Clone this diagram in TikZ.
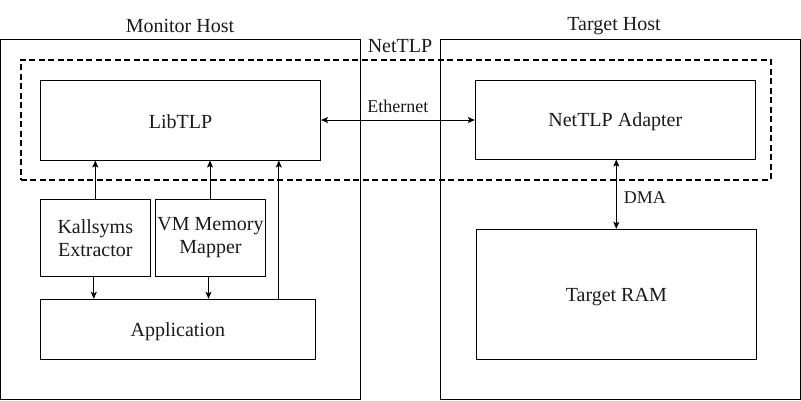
\documentclass[tikz,border=0pt]{standalone}
\usepackage{fontspec}
\setmainfont{Liberation Serif}
\usetikzlibrary{positioning, arrows.meta}
\definecolor{cLine}{HTML}{000000}
\definecolor{cText}{HTML}{1A1A1A}

\begin{document}
\begin{tikzpicture}[x=1pt, y=-1pt,
    hostbox/.style={draw=cLine, line width=1pt, inner sep=0pt},
    blockbox/.style={draw=cLine, line width=1pt, inner sep=0pt, align=center,
      text=cText, font=\fontsize{20}{23}\selectfont,
      execute at begin node={\rule{0pt}{18pt}}},
    grouplbl/.style={text=cText, inner sep=0pt, font=\fontsize{20}{23}\selectfont},
    linklbl/.style={text=cText, inner sep=2pt, font=\fontsize{18}{20}\selectfont},
    link/.style={-{Stealth[length=7pt, width=6pt, inset=1.5pt]}, line width=1pt, draw=cLine},
    duplex/.style={{Stealth[length=7pt, width=6pt, inset=1.5pt]}-{Stealth[length=7pt, width=6pt, inset=1.5pt]},
      line width=1pt, draw=cLine},
  ]
  \useasboundingbox (0,0) rectangle (801,400);

  % hosts
  \node[hostbox, minimum width=360pt, minimum height=360pt] (mon) at (180.5, 219.5) {};
  \node[hostbox, minimum width=360pt, minimum height=360pt] (tgt) at (620, 219) {};
  \node[grouplbl] (monlbl) at (180, 26) {Monitor Host};
  \node[grouplbl] (tgtlbl) at (614, 26) {Target Host};

  % NetTLP region
  \node[draw=cLine, line width=2pt, dash pattern=on 6pt off 3.5pt, inner sep=0pt,
        minimum width=750pt, minimum height=120pt] (ntlp) at (395.5, 119.5) {};
  \node[grouplbl] (ntlplbl) at (400, 46) {NetTLP};

  % blocks
  \node[blockbox, minimum width=280pt, minimum height=80pt] (lib) at (180.5, 120) {LibTLP};
  \node[blockbox, minimum width=280pt, minimum height=79pt] (adp) at (615.3, 119.5) {NetTLP Adapter};
  \node[blockbox, minimum width=110pt, minimum height=77pt] (kall) at (95.3, 238) {Kallsyms\\Extractor};
  \node[blockbox, minimum width=110pt, minimum height=77pt] (vmm) at (210.5, 238) {VM Memory\\Mapper};
  \node[blockbox, minimum width=275pt, minimum height=60pt] (app) at (177.8, 329.3) {Application};
  \node[blockbox, minimum width=280pt, minimum height=130pt] (ram) at (616.3, 294.3) {Target RAM};

  % connectors
  \draw[link] (kall.north) -- (kall.north |- lib.south);
  \draw[link] ([xshift=-0.5pt]vmm.north) -- ([xshift=-0.5pt]vmm.north |- lib.south);
  \draw[link] ([xshift=-37pt]app.north east) -- ([xshift=-37pt]app.north east |- lib.south);
  \draw[link] ([xshift=-1.5pt]kall.south) -- ([xshift=-1.5pt]kall.south |- app.north);
  \draw[link] ([xshift=-2pt]vmm.south) -- ([xshift=-2pt]vmm.south |- app.north);
  \draw[duplex] (lib.east) -- node[linklbl, above=5pt] (ethlbl) {Ethernet} (lib.east -| adp.west);
  \draw[duplex] (ram.north |- adp.south) -- node[linklbl, right=5pt, yshift=-3pt] (dmalbl) {DMA} (ram.north);
\end{tikzpicture}
\end{document}
